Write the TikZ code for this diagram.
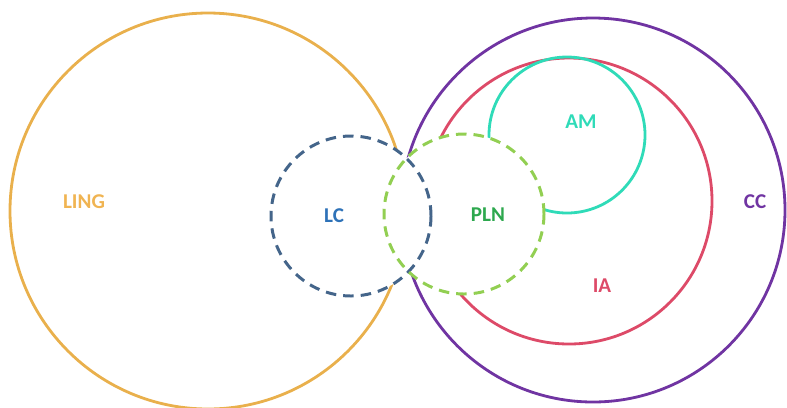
\documentclass[tikz,border=0pt]{standalone}
\usepackage{fontspec}
\setmainfont{Carlito}
\definecolor{cling}{HTML}{E9B04C}
\definecolor{clinglab}{HTML}{F0B452}
\definecolor{clc}{HTML}{44658A}
\definecolor{clclab}{HTML}{2E72B8}
\definecolor{cpln}{HTML}{92CF52}
\definecolor{cplnlab}{HTML}{2DA84E}
\definecolor{cam}{HTML}{2FDBB8}
\definecolor{cia}{HTML}{DD4A68}
\definecolor{ccc}{HTML}{7034A2}
\begin{document}
\begin{tikzpicture}[x=0.02cm,y=-0.02cm,
  ring/.style={line width=1.6pt},
  dashring/.style={line width=1.7pt, dash pattern=on 6pt off 4pt},
  lab/.style={font=\fontsize{12}{14}\selectfont\bfseries, inner sep=0pt}]
\useasboundingbox (0,0) rectangle (787,407);
% solid circles
\draw[ring, cling] (208,211) circle (198);
\draw[ring, ccc] (593,210) circle (192);
\draw[ring, cia] (569,201) circle (143);
\draw[ring, cam] (567,135) circle (78);
% dashed circles: fills first, then strokes
\fill[white] (351,216) circle (80);
\fill[white] (464,214) circle (80);
\draw[dashring, clc] (351,216) circle (80);
\draw[dashring, cpln] (464,214) circle (80);
% labels
\node[lab, text=clinglab] (ling) at (84,202) {LING};
\node[lab, text=clclab] (lc) at (334,216) {LC};
\node[lab, text=cplnlab] (pln) at (488,215) {PLN};
\node[lab, text=cam] (am) at (581,122) {AM};
\node[lab, text=ccc] (cc) at (755,202) {CC};
\node[lab, text=cia] (ia) at (602,286) {IA};
\end{tikzpicture}
\end{document}
